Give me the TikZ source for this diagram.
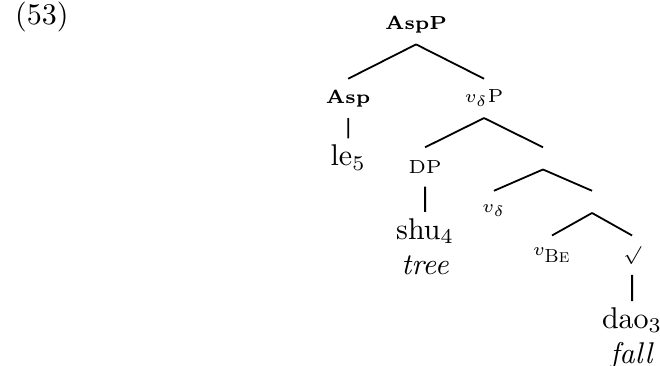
\documentclass[tikz,border=0pt]{standalone}
\usepackage{tikz}

\begin{document}
\begin{tikzpicture}[
    every node/.style={font=\fontsize{10}{11.8}\selectfont},
    cat/.style={anchor=north, inner sep=0pt, minimum height=12.7pt, font=\fontsize{6.3}{7}\selectfont},
    blank/.style={anchor=north, inner sep=0pt, minimum height=7pt, minimum width=0pt},
    word/.style={anchor=north, inner sep=2pt, align=center},
    edge from parent/.style={draw, line width=0.6pt},
    edge from parent path={(\tikzparentnode.south) -- (\tikzchildnode.north)},
    level 1/.style={sibling distance=45.3pt, level distance=18pt},
    level 2/.style={sibling distance=39.3pt, level distance=16.3pt},
    level 3/.style={sibling distance=32.7pt, level distance=10.8pt},
    level 4/.style={sibling distance=26.7pt, level distance=11.2pt},
    level 5/.style={level distance=15.3pt},
    ]
  \useasboundingbox (0,0) rectangle (220pt,-122pt);
  \node[anchor=west] (ex-num) at (1.5pt,-5.7pt) {(53)};
  \node[cat] (asp-p) at (138.7pt,-1.7pt) {\bfseries AspP}
    child { node[cat] (asp) {\bfseries Asp}
      child[level distance=13.3pt] { node[word] (le) {le$_5$} }
    }
    child { node[cat] (vd-p) {$v_\delta$P}
      child { node[cat] (dp) {DP}
        child[level distance=15pt] { node[word] (shu) {shu$_4$\\\textit{tree}} }
      }
      child { node[blank] (vd-bar) {}
        child { node[cat] (vd) {$v_\delta$} }
        child { node[blank] (be-bar) {}
          child { node[cat] (v-be) {$v_{\mbox{\fontsize{6.3}{7}\selectfont\textsc{Be}}}$} }
          child { node[cat] (root) {$\surd$}
            child { node[word] (dao) {dao$_3$\\\textit{fall}} }
          }
        }
      }
    };
\end{tikzpicture}
\end{document}
